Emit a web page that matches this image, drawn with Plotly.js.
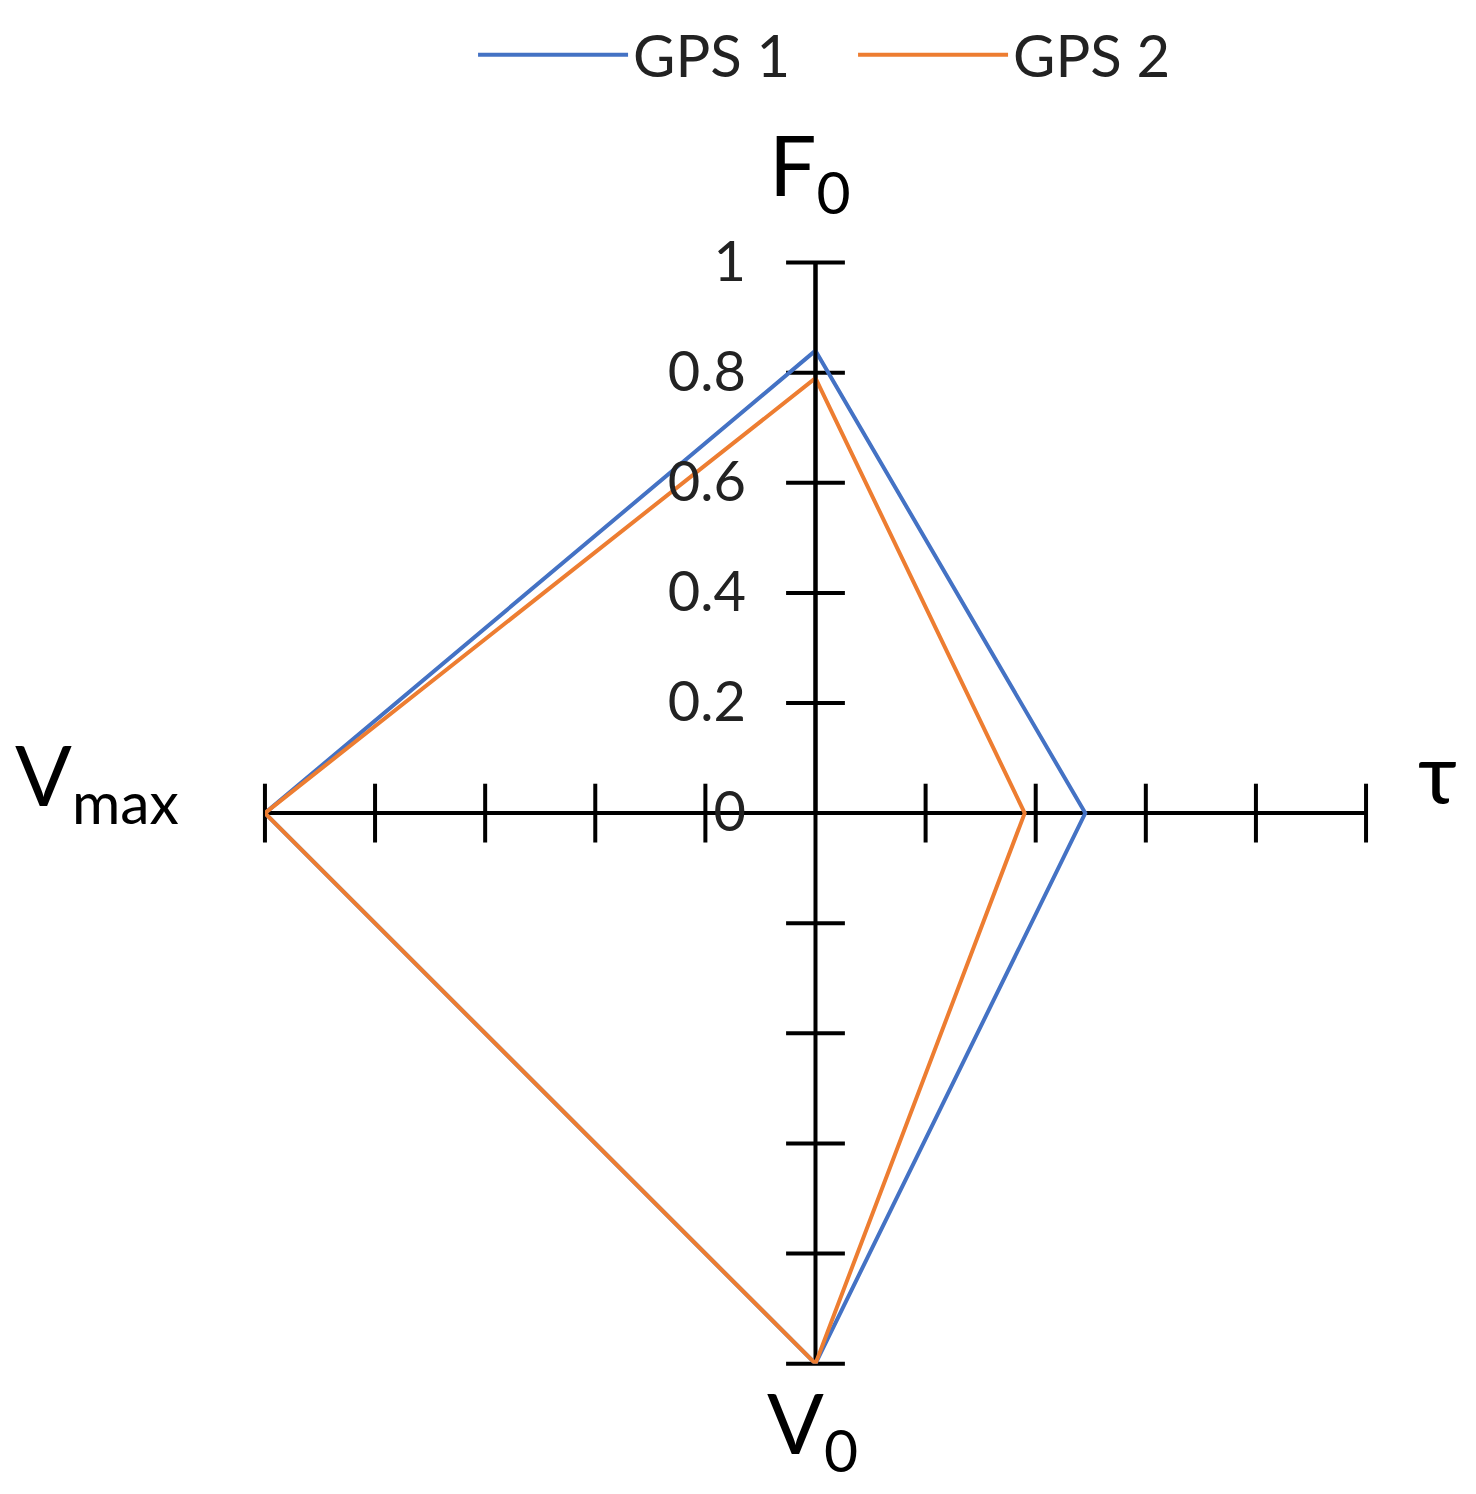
<!DOCTYPE html>
<html>
<head>
<meta charset="utf-8">
<script src="https://cdn.plot.ly/plotly-3.0.1.min.js"></script>
<style>
  html, body { margin: 0; padding: 0; background: #fff; }
  #graph { width: 1476px; height: 1494px; }
</style>
</head>
<body>
<div id="graph"></div>
<script>
// categories of the radar, clockwise from the top
const categories = ["F0", "tau", "V0", "Vmax"];
const categoryLabels = ["F<sub>0</sub>", "τ", "V<sub>0</sub>", "V<sub>max</sub>"];
const gps1 = [0.84, 0.49, 1, 1];
const gps2 = [0.79, 0.38, 1, 1];
const radialTicks = [0, 0.2, 0.4, 0.6, 0.8, 1];

const blue = "#4472C4";
const orange = "#ED7D31";

function closed(arr) {
    return arr.concat([arr[0]]);
}

// crossing tick marks on every spoke (Excel style)
const tickR = [];
const tickTheta = [];
const tickSymbol = [];
categories.forEach((c, i) => {
    radialTicks.slice(1).forEach(t => {
        tickR.push(t);
        tickTheta.push(c);
        tickSymbol.push(i % 2 === 0 ? "line-ew-open" : "line-ns-open");
    });
});

const data = [
    {
        type: "scatterpolar",
        r: tickR,
        theta: tickTheta,
        mode: "markers",
        marker: { symbol: tickSymbol, size: 42, color: "black", line: { color: "black", width: 4 } },
        showlegend: false,
        hoverinfo: "skip"
    },
    {
        type: "scatterpolar",
        name: "GPS 1",
        r: closed(gps1),
        theta: closed(categories),
        mode: "lines",
        line: { color: blue, width: 4 }
    },
    {
        type: "scatterpolar",
        name: "GPS 2",
        r: closed(gps2),
        theta: closed(categories),
        mode: "lines",
        line: { color: orange, width: 4 }
    }
];

// category labels placed round the outside of the spokes (same order as categories)
const labelPos = [[810, 170], [1437, 770], [812, 1428], [97, 780]];
const annotations = categoryLabels.map((t, i) => ({
    text: t,
    xref: "paper", yref: "paper",
    x: labelPos[i][0] / 1476,
    y: 1 - labelPos[i][1] / 1494,
    xanchor: "center", yanchor: "middle",
    showarrow: false,
    font: { size: 84, color: "black" }
}));

const layout = {
    width: 1476,
    height: 1494,
    margin: { l: 0, r: 0, t: 0, b: 0, autoexpand: false },
    paper_bgcolor: "white",
    font: { family: "Lato, 'Open Sans', sans-serif", color: "#222", size: 54 },
    showlegend: true,
    legend: {
        orientation: "h",
        x: 0.3205, xanchor: "left",
        y: 0.993, yanchor: "top",
        font: { size: 58, color: "#222" },
        itemwidth: 150,
        entrywidth: 215
    },
    annotations: annotations,
    polar: {
        domain: { x: [0.1795, 0.9255], y: [0.087, 0.8245] },
        bgcolor: "white",
        angularaxis: {
            type: "category",
            categoryarray: categories,
            rotation: 90,
            direction: "clockwise",
            showline: false,
            showgrid: true,
            gridcolor: "black",
            gridwidth: 4,
            showticklabels: false,
            ticks: ""
        },
        radialaxis: {
            range: [0, 1],
            angle: 90,
            tickvals: radialTicks,
            ticktext: radialTicks.map(String),
            showgrid: false,
            showline: true,
            linecolor: "black",
            linewidth: 4,
            ticks: "outside",
            ticklen: 48,
            tickcolor: "rgba(0,0,0,0)",
            side: "counterclockwise",
            tickangle: 90,
            tickfont: { size: 56, color: "#222" }
        }
    }
};

Plotly.newPlot("graph", data, layout, { displayModeBar: false });
</script>
</body>
</html>
